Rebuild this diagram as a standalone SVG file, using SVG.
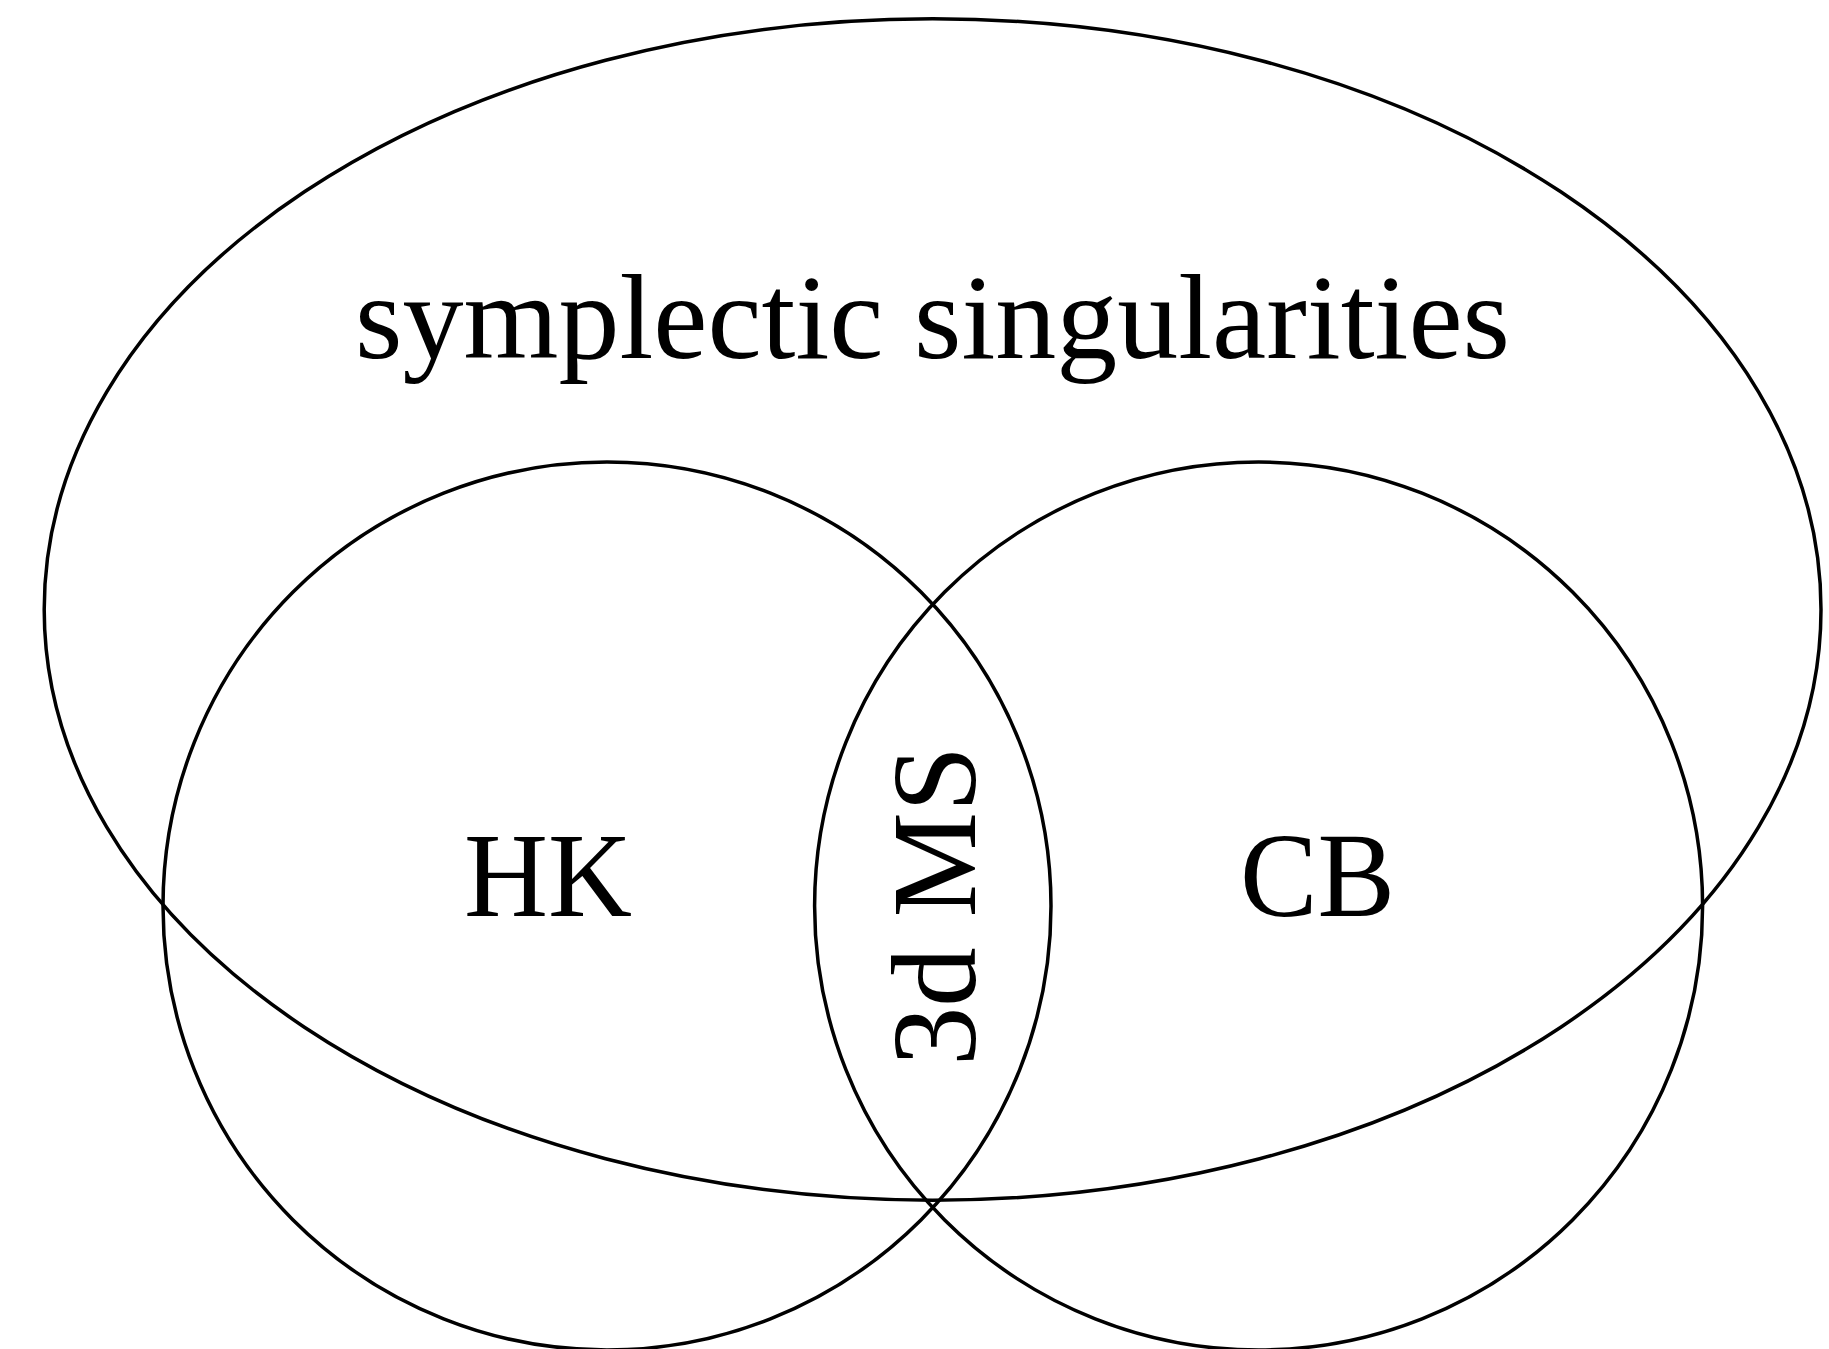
<svg xmlns="http://www.w3.org/2000/svg" width="1829" height="1349" viewBox="0 0 1829 1349">
<style>
.c{fill:none;stroke:#000;stroke-width:3.5}
.t{font-family:"Liberation Serif","DejaVu Serif",serif;font-size:120px;fill:#000}
</style>
<rect width="1829" height="1349" fill="#fff"/>
<g id="symplectic">
<ellipse class="c" cx="932.6" cy="609.5" rx="888.4" ry="590.7"/>
<text class="t" x="932.6" y="358" text-anchor="middle" textLength="1155" lengthAdjust="spacingAndGlyphs">symplectic singularities</text>
</g>
<g id="HK">
<circle class="c" cx="607" cy="906" r="444"/>
<text class="t" x="548" y="916" text-anchor="middle" textLength="168" lengthAdjust="spacingAndGlyphs">HK</text>
</g>
<g id="CB">
<circle class="c" cx="1258.6" cy="906" r="444"/>
<text class="t" x="1317.5" y="916" text-anchor="middle" textLength="155" lengthAdjust="spacingAndGlyphs">CB</text>
</g>
<g id="MS">
<text class="t" x="0" y="0" text-anchor="middle" textLength="320" lengthAdjust="spacingAndGlyphs" transform="translate(975 906) rotate(-90)">3d MS</text>
</g>
<g id="connectors"/>
</svg>
